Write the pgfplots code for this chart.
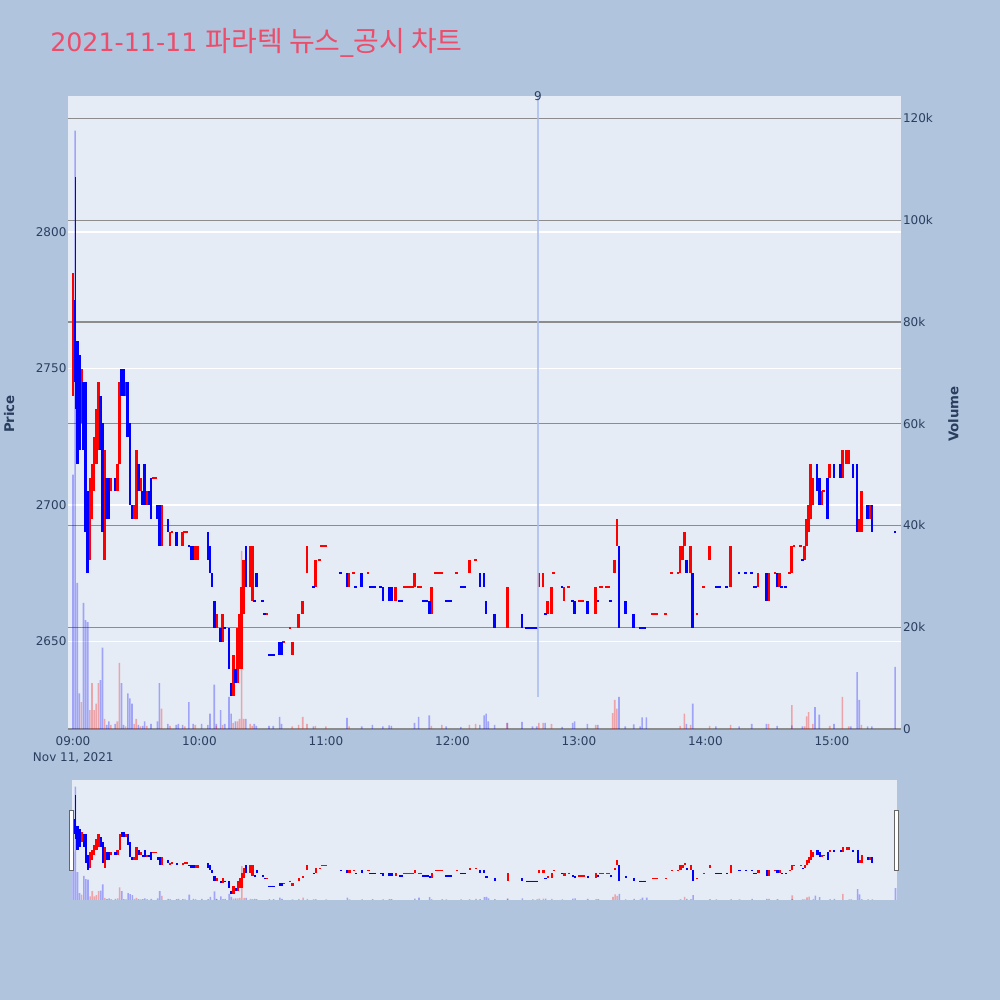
\documentclass[border=0pt]{standalone}
\usepackage{pgfplots}
\pgfplotsset{compat=1.18}
\usepackage{pgfplotstable}
\usepackage{fontspec}
\setmainfont{DejaVu Sans}
\newfontfamily\cjk{Noto Sans CJK KR}
\definecolor{pagebg}{HTML}{B0C4DE}
\definecolor{plotbg}{HTML}{E5ECF6}
\definecolor{txt}{HTML}{2A3F5F}
\definecolor{ttl}{HTML}{EB4D6B}
\definecolor{vgrid}{HTML}{8C8C8C}
\definecolor{vlinec}{HTML}{A9BDF0}

% rising candles (red): minute from 09:00, open, close
\pgfplotstableread{
t o c
0 2740 2785
4 2730 2750
8 2680 2710
9 2695 2715
10 2705 2725
11 2715 2735
12 2720 2745
15 2680 2720
18 2705 2710
21 2705 2715
22 2715 2745
25 2740 2745
29 2695 2700
30 2695 2720
32 2705 2710
35 2700 2705
38 2710 2710
39 2710 2710
42 2685 2700
46 2685 2690
47 2690 2690
52 2685 2690
53 2690 2690
54 2690 2690
58 2680 2685
59 2680 2685
68 2655 2660
71 2650 2660
76 2630 2645
78 2635 2655
79 2640 2660
80 2640 2670
81 2660 2680
84 2670 2685
85 2665 2685
92 2660 2660
100 2650 2650
103 2655 2655
104 2645 2650
107 2655 2660
109 2660 2665
111 2675 2685
115 2670 2680
117 2680 2680
118 2685 2685
119 2685 2685
120 2685 2685
131 2670 2675
133 2675 2675
140 2675 2675
153 2665 2670
157 2670 2670
158 2670 2670
159 2670 2670
160 2670 2670
161 2670 2670
162 2670 2675
164 2670 2670
165 2670 2670
170 2660 2670
172 2675 2675
173 2675 2675
174 2675 2675
175 2675 2675
182 2675 2675
188 2675 2680
191 2680 2680
206 2655 2670
221 2670 2675
223 2670 2675
225 2660 2665
227 2660 2670
228 2675 2675
233 2665 2670
235 2670 2670
240 2665 2665
241 2665 2665
242 2665 2665
248 2660 2670
250 2670 2670
251 2670 2670
253 2670 2670
254 2670 2670
257 2675 2680
258 2685 2695
275 2660 2660
276 2660 2660
277 2660 2660
281 2660 2660
284 2675 2675
287 2675 2675
288 2675 2685
289 2680 2685
290 2685 2690
293 2675 2685
296 2660 2660
299 2670 2670
302 2680 2685
312 2670 2685
325 2670 2675
330 2665 2675
333 2675 2675
335 2670 2675
340 2675 2675
341 2675 2685
342 2685 2685
345 2685 2685
347 2680 2685
348 2685 2695
349 2690 2700
350 2695 2715
351 2700 2710
355 2700 2705
356 2705 2705
359 2710 2715
365 2710 2720
367 2715 2720
368 2715 2720
373 2690 2695
374 2690 2705
378 2695 2700
}\up

% falling candles (blue)
\pgfplotstableread{
t o c
1 2775 2745
2 2760 2715
3 2755 2720
5 2745 2720
6 2745 2690
7 2705 2675
13 2740 2720
14 2730 2690
16 2710 2695
17 2710 2695
20 2710 2705
23 2750 2740
24 2750 2740
26 2745 2725
27 2730 2700
28 2700 2695
31 2715 2705
33 2705 2700
34 2715 2700
36 2705 2700
37 2710 2695
40 2700 2695
41 2700 2685
45 2695 2690
49 2690 2685
55 2685 2685
56 2685 2680
57 2685 2680
64 2690 2680
65 2685 2675
66 2675 2670
67 2665 2655
70 2655 2650
72 2655 2655
74 2655 2640
75 2635 2630
77 2640 2635
82 2685 2670
86 2665 2665
87 2675 2670
90 2665 2665
91 2660 2660
93 2645 2645
94 2645 2645
95 2645 2645
98 2650 2645
99 2650 2645
114 2670 2670
127 2675 2675
130 2675 2670
134 2670 2670
137 2675 2670
141 2670 2670
142 2670 2670
143 2670 2670
146 2670 2670
147 2670 2665
150 2670 2665
151 2670 2665
155 2665 2665
156 2665 2665
166 2665 2665
167 2665 2665
168 2665 2665
169 2665 2660
177 2665 2665
178 2665 2665
179 2665 2665
184 2670 2670
185 2670 2670
186 2670 2670
193 2675 2670
195 2675 2670
196 2665 2660
200 2660 2655
213 2660 2655
215 2655 2655
216 2655 2655
217 2655 2655
218 2655 2655
219 2655 2655
220 2655 2655
224 2660 2660
232 2670 2670
237 2665 2665
238 2665 2660
244 2665 2660
249 2665 2665
255 2665 2665
259 2685 2655
262 2665 2660
266 2660 2655
269 2655 2655
270 2655 2655
271 2655 2655
291 2680 2675
294 2675 2655
305 2670 2670
306 2670 2670
307 2670 2670
310 2670 2670
316 2675 2675
319 2675 2675
322 2675 2675
323 2670 2670
324 2670 2670
329 2675 2665
334 2675 2670
336 2670 2670
338 2670 2670
346 2680 2680
353 2715 2705
354 2710 2700
358 2710 2695
361 2715 2710
364 2715 2710
370 2715 2710
372 2715 2690
377 2700 2695
379 2700 2690
390 2690 2690
}\dn

% wicks: minute, high, low
\pgfplotstableread{
t h l
1 2820 2735
}\wkdn

% volume (thousands), blue bars
\pgfplotstableread{
t v
0 50
1 117.6
2 28.7
3 7
5 24.8
6 21.4
7 21
13 9.6
14 16
16 0.8
17 1.5
20 1
23 9
24 0.8
26 7
27 6
28 5
31 0.8
33 0.6
34 1.5
37 1
40 1.5
41 9
45 1
49 0.8
50 1
52 0.8
55 5.3
57 1
61 1
64 0.8
65 3
67 8.7
68 1
70 3.7
72 1
74 6.3
75 3
77 1.5
82 2
86 1
87 0.6
93 0.6
95 0.6
98 2.4
99 1
114 0.5
130 2.2
137 0.5
142 0.8
147 0.5
150 0.7
151 0.6
162 1.2
164 2.4
169 2.7
177 0.5
184 0.4
193 0.8
195 2.7
196 3
197 1.5
200 0.8
206 1.2
213 1.4
218 0.5
220 0.5
224 1.2
232 0.4
237 1.2
238 1.5
244 1
249 0.8
259 6.3
262 0.5
266 0.9
269 0.5
270 2.3
272 2.3
291 1
294 5
305 0.5
316 0.5
322 1
329 1
334 0.6
341 0.7
346 0.5
352 4.3
354 2.8
361 1
369 0.5
372 11.2
373 5.7
377 0.5
379 0.5
390 12.2
}\vdn

% volume (thousands), red bars
\pgfplotstableread{
t v
4 5.3
8 3.7
9 9
10 3.7
11 5
12 9
15 2
18 0.8
21 1.5
22 13
25 0.5
29 1
30 2
32 0.5
35 0.6
42 4
46 0.6
53 0.5
58 0.8
68 0.6
71 0.8
76 1.2
78 1.5
79 2
80 35
81 2
84 1
85 0.6
104 0.5
107 0.8
109 2.4
111 1
115 0.6
120 0.5
131 0.5
170 0.6
175 0.8
188 0.8
191 1
206 1.2
221 1.2
223 1.2
227 1
248 0.8
256 3.1
257 5.7
258 4
288 0.6
290 3
293 0.8
302 0.6
312 0.8
330 1
341 4.7
347 0.5
348 2.5
349 3.3
351 1
359 0.6
365 6.3
368 0.5
374 0.8
}\vup

\pgfplotsset{
  every axis/.append style={font=\fontsize{9pt}{10pt}\selectfont,
    /pgf/number format/assume math mode=true},
  mainax/.style={at={(51pt,-72pt)}, anchor=north west, scale only axis,
    width=624.75pt, height=475.5pt, xmin=-2.37, xmax=392.8,
    axis line style={draw=none}, major tick length=0pt},
  slax/.style={at={(54pt,-585pt)}, anchor=north west, scale only axis,
    width=618.75pt, height=90pt, xmin=-0.6, xmax=390.7,
    axis line style={draw=none}, xtick=\empty, ytick=\empty, major tick length=0pt},
  pr/.style={ymin=2617.6, ymax=2849.8},
  vo/.style={ymin=-0.2, ymax=124.4},
  body/.style 2 args={draw=none, mark=none, forget plot,
    error bars/.cd, y dir=both, y explicit, error mark=none,
    error bar style={draw=#1, line width=#2}},
  vbar/.style={ybar, bar width=0.75, bar shift=0pt, draw=none, fill=#1, fill opacity=0.3, forget plot},
}
\newcommand{\candles}[1]{%
  \addplot[body={blue}{0.8pt}] table[x=t, y expr={(\thisrow{h}+\thisrow{l})/2},
    y error expr={(\thisrow{h}-\thisrow{l})/2}] {\wkdn};
  \addplot[body={red}{#1}] table[x=t, y expr={(\thisrow{o}+\thisrow{c})/2},
    y error expr={max(abs(\thisrow{c}-\thisrow{o})/2,0.35)}] {\up};
  \addplot[body={blue}{#1}] table[x=t, y expr={(\thisrow{o}+\thisrow{c})/2},
    y error expr={max(abs(\thisrow{c}-\thisrow{o})/2,0.35)}] {\dn};
}

\begin{document}
\begin{tikzpicture}
\fill[pagebg] (0,0) rectangle (750pt,-750pt);

% main: background, price grid and labels
\begin{axis}[mainax, pr,
  axis background/.style={fill=plotbg},
  ytick={2650,2700,2750,2800}, yticklabels={2650,2700,2750,2800},
  yticklabel style={anchor=east, inner sep=0pt, xshift=-1pt, text=txt},
  ymajorgrids, major grid style={white, line width=0.8pt},
  xtick={0,60,120,180,240,300,360},
  xticklabels={09:00,10:00,11:00,12:00,13:00,14:00,15:00},
  xticklabel style={anchor=north, inner sep=0pt, yshift=-5pt, text=txt}]
  \addplot[draw=none, forget plot] coordinates {(0,2700)};
\end{axis}

% main: volume axis
\begin{axis}[mainax, vo,
  xtick=\empty,
  ytick={0,20,40,60,80,100,120},
  yticklabels={0,20k,40k,60k,80k,100k,120k},
  yticklabel pos=right,
  yticklabel style={anchor=west, inner sep=0pt, xshift=1.3pt, text=txt},
  ymajorgrids, major grid style={vgrid, line width=0.9pt}]
  \addplot[vbar=blue] table[x=t, y=v] {\vdn};
  \addplot[vbar=red] table[x=t, y=v] {\vup};
\end{axis}

% main: candles
\begin{axis}[mainax, pr, xtick=\empty, ytick=\empty, clip=false]
  \candles{2pt}
  \addplot[vlinec, line width=1.6pt, opacity=0.8, forget plot]
    coordinates {(220.6,2629.7) (220.6,2849.8)};
  \node[text=txt, inner sep=0pt] at (axis cs:220.6,2849.8) {9};
\end{axis}

% range slider
\begin{axis}[slax, vo, axis background/.style={fill=plotbg}]
  \addplot[vbar=blue] table[x=t, y=v] {\vdn};
  \addplot[vbar=red] table[x=t, y=v] {\vup};
\end{axis}
\begin{axis}[slax, pr]
  \candles{1.6pt}
\end{axis}
\fill[white, draw=gray!80!black, line width=0.6pt] (52.3pt,-607.5pt) rectangle (55.1pt,-652.5pt);
\fill[white, draw=gray!80!black, line width=0.6pt] (671pt,-607.5pt) rectangle (673.8pt,-652.5pt);

% titles
\node[anchor=base west, inner sep=0pt, text=ttl] at (37.5pt,-38.25pt)
  {\fontsize{19pt}{22pt}\selectfont 2021-11-11 {\cjk\fontsize{21pt}{24pt}\selectfont 파라텍 뉴스}\_{\cjk\fontsize{21pt}{24pt}\selectfont 공시 차트}};
\node[anchor=north west, inner sep=0pt, text=txt, font=\fontsize{9pt}{10pt}\selectfont] at (24.5pt,-564.5pt) {Nov 11, 2021};
\node[rotate=90, inner sep=0pt, text=txt, font=\fontsize{10pt}{12pt}\selectfont\bfseries] at (6.9pt,-310.5pt) {Price};
\node[rotate=90, inner sep=0pt, text=txt, font=\fontsize{10pt}{12pt}\selectfont\bfseries] at (715pt,-310.5pt) {Volume};
\end{tikzpicture}
\end{document}
